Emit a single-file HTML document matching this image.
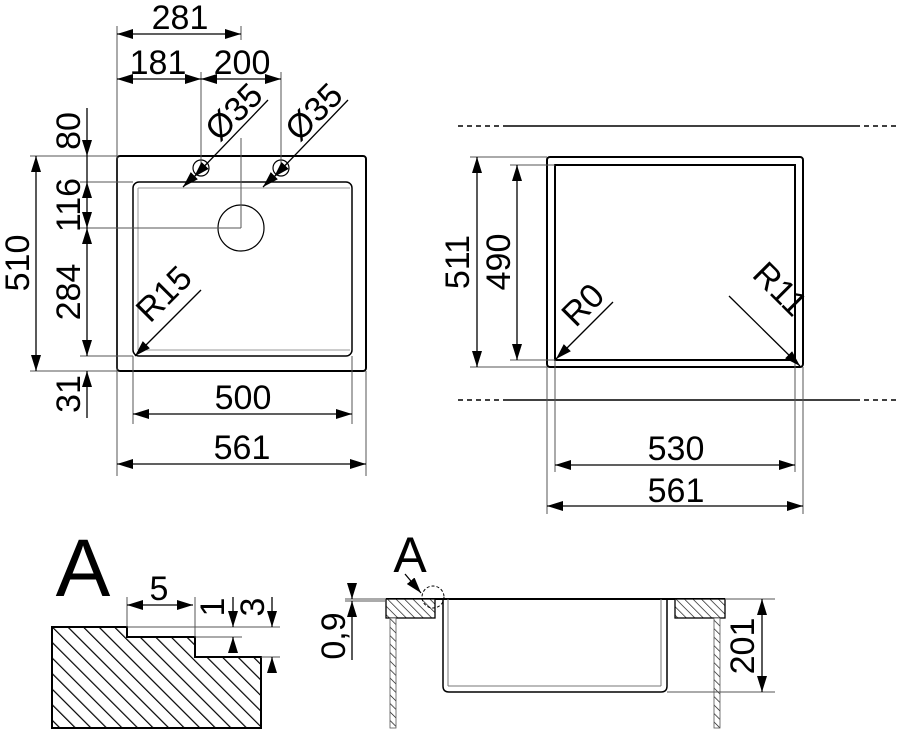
<!DOCTYPE html>
<html><head><meta charset="utf-8"><style>
html,body{margin:0;padding:0;background:#fff;}
svg{display:block;}
text{font-family:"Liberation Sans",sans-serif;fill:#000;}
</style></head><body>
<svg width="903" height="735" viewBox="0 0 903 735" xmlns="http://www.w3.org/2000/svg">
<defs>
<marker id="a" viewBox="0 0 16 10" refX="16" refY="5" markerWidth="16" markerHeight="10" markerUnits="userSpaceOnUse" orient="auto-start-reverse"><path d="M0,0 L16,5 L0,10 z" fill="#000"/></marker>
<pattern id="h" width="11" height="11" patternUnits="userSpaceOnUse" patternTransform="rotate(-45)"><rect width="11" height="11" fill="#fff"/><line x1="0" y1="0" x2="0" y2="11" stroke="#000" stroke-width="2.4"/></pattern>
<pattern id="h2" width="6" height="6" patternUnits="userSpaceOnUse" patternTransform="rotate(-45)"><rect width="6" height="6" fill="#fff"/><line x1="0" y1="0" x2="0" y2="6" stroke="#000" stroke-width="1.3"/></pattern>
</defs>

<!-- LEFT VIEW -->
<g fill="none" stroke="#000">
<rect x="117" y="156" width="249" height="215" rx="3" stroke-width="2"/>
<rect x="133" y="182" width="219" height="174" rx="6" stroke-width="1.5"/>
<line x1="138" y1="188" x2="138" y2="350" stroke="#999" stroke-width="1"/>
<line x1="138" y1="188" x2="350" y2="188" stroke="#999" stroke-width="1"/>
<line x1="138" y1="350" x2="350" y2="350" stroke="#999" stroke-width="1"/>
<circle cx="241" cy="228" r="23" stroke-width="1.2"/>
<circle cx="201" cy="168" r="8" stroke-width="1.2"/>
<circle cx="281" cy="168" r="8" stroke-width="1.2"/>
</g>
<g stroke="#555" stroke-width="1" fill="none">
<line x1="117" y1="26" x2="117" y2="476"/>
<line x1="241" y1="26" x2="241" y2="40"/>
<line x1="241" y1="138" x2="241" y2="228"/>
<line x1="80" y1="228" x2="241" y2="228"/>
<line x1="201" y1="72" x2="201" y2="165"/>
<line x1="281" y1="72" x2="281" y2="165"/>
<line x1="366" y1="371" x2="366" y2="476"/>
<line x1="133" y1="356" x2="133" y2="424"/>
<line x1="352" y1="356" x2="352" y2="424"/>
<line x1="30" y1="156" x2="117" y2="156"/>
<line x1="30" y1="371" x2="117" y2="371"/>
<line x1="80" y1="182" x2="133" y2="182"/>
<line x1="80" y1="356" x2="133" y2="356"/>
</g>
<g stroke="#000" stroke-width="1.3" fill="none">
<line x1="117" y1="34" x2="241" y2="34" marker-start="url(#a)" marker-end="url(#a)"/>
<line x1="117" y1="79" x2="201" y2="79" marker-start="url(#a)" marker-end="url(#a)"/>
<line x1="201" y1="79" x2="281" y2="79" marker-start="url(#a)" marker-end="url(#a)"/>
<line x1="36" y1="156" x2="36" y2="371" marker-start="url(#a)" marker-end="url(#a)"/>
<line x1="87" y1="108" x2="87" y2="156" marker-end="url(#a)"/>
<line x1="87" y1="182" x2="87" y2="228" marker-start="url(#a)" marker-end="url(#a)"/>
<line x1="87" y1="228" x2="87" y2="356" marker-start="url(#a)" marker-end="url(#a)"/>
<line x1="87" y1="418" x2="87" y2="371" marker-end="url(#a)"/>
<line x1="87" y1="156" x2="87" y2="182"/>
<line x1="133" y1="414" x2="352" y2="414" marker-start="url(#a)" marker-end="url(#a)"/>
<line x1="117" y1="464" x2="366" y2="464" marker-start="url(#a)" marker-end="url(#a)"/>
<line x1="268" y1="100" x2="194" y2="177" marker-end="url(#a)"/>
<line x1="183" y1="187" x2="190" y2="180" marker-start="url(#a)"/>
<line x1="348" y1="100" x2="274" y2="177" marker-end="url(#a)"/>
<line x1="263" y1="187" x2="270" y2="180" marker-start="url(#a)"/>
<line x1="201" y1="290" x2="135" y2="356" marker-end="url(#a)"/>
</g>
<g font-size="34">
<text x="180" y="29" text-anchor="middle">281</text>
<text x="158" y="74" text-anchor="middle">181</text>
<text x="242" y="74" text-anchor="middle">200</text>
<text x="243" y="409" text-anchor="middle">500</text>
<text x="242" y="459" text-anchor="middle">561</text>
<text transform="translate(29,263) rotate(-90)" text-anchor="middle">510</text>
<text transform="translate(80,131) rotate(-90)" text-anchor="middle">80</text>
<text transform="translate(80,205) rotate(-90)" text-anchor="middle">116</text>
<text transform="translate(80,292) rotate(-90)" text-anchor="middle">284</text>
<text transform="translate(80,394) rotate(-90)" text-anchor="middle">31</text>
<text transform="translate(242,120) rotate(-45)" text-anchor="middle">Ø35</text>
<text transform="translate(322,120) rotate(-45)" text-anchor="middle">Ø35</text>
<text transform="translate(172,302) rotate(-45)" text-anchor="middle">R15</text>
</g>

<!-- RIGHT VIEW -->
<g fill="none" stroke="#000">
<line x1="503" y1="126" x2="855" y2="126" stroke-width="1.5"/>
<line x1="458" y1="126" x2="503" y2="126" stroke-width="1.5" stroke-dasharray="5,4"/>
<line x1="855" y1="126" x2="900" y2="126" stroke-width="1.5" stroke-dasharray="5,4"/>
<line x1="503" y1="400" x2="855" y2="400" stroke-width="1.5"/>
<line x1="458" y1="400" x2="503" y2="400" stroke-width="1.5" stroke-dasharray="5,4"/>
<line x1="855" y1="400" x2="900" y2="400" stroke-width="1.5" stroke-dasharray="5,4"/>
<rect x="547" y="157" width="256" height="210" rx="3" stroke-width="2"/>
<rect x="555" y="165" width="240" height="195" stroke-width="2"/>
</g>
<g stroke="#555" stroke-width="1">
<line x1="470" y1="157" x2="547" y2="157"/>
<line x1="470" y1="367" x2="547" y2="367"/>
<line x1="510" y1="165" x2="555" y2="165"/>
<line x1="510" y1="360" x2="555" y2="360"/>
<line x1="547" y1="367" x2="547" y2="514"/>
<line x1="803" y1="367" x2="803" y2="514"/>
<line x1="555" y1="360" x2="555" y2="472"/>
<line x1="795" y1="360" x2="795" y2="472"/>
</g>
<g stroke="#000" stroke-width="1.3">
<line x1="477" y1="157" x2="477" y2="367" marker-start="url(#a)" marker-end="url(#a)"/>
<line x1="517" y1="165" x2="517" y2="360" marker-start="url(#a)" marker-end="url(#a)"/>
<line x1="555" y1="465" x2="795" y2="465" marker-start="url(#a)" marker-end="url(#a)"/>
<line x1="547" y1="506" x2="803" y2="506" marker-start="url(#a)" marker-end="url(#a)"/>
<line x1="613" y1="302" x2="556" y2="359" marker-end="url(#a)"/>
<line x1="729" y1="296" x2="800" y2="366" marker-end="url(#a)"/>
</g>
<g font-size="34">
<text transform="translate(469,262) rotate(-90)" text-anchor="middle">511</text>
<text transform="translate(510,262) rotate(-90)" text-anchor="middle">490</text>
<text x="676" y="460" text-anchor="middle">530</text>
<text x="676" y="502" text-anchor="middle">561</text>
<text transform="translate(591,313) rotate(-45)" text-anchor="middle">R0</text>
<text transform="translate(772,297) rotate(45)" text-anchor="middle">R11</text>
</g>

<!-- DETAIL A -->
<text x="83" y="596" font-size="82" text-anchor="middle">A</text>
<path d="M52,627 L127,627 L127,637 L195,637 L195,657 L261,657 L261,728 L52,728 Z" fill="url(#h)" stroke="#000" stroke-width="2"/>
<g stroke="#555" stroke-width="1">
<line x1="127" y1="597" x2="127" y2="627"/>
<line x1="195" y1="597" x2="195" y2="637"/>
<line x1="127" y1="627" x2="280" y2="627"/>
<line x1="195" y1="637" x2="242" y2="637"/>
<line x1="261" y1="657" x2="280" y2="657"/>
</g>
<g stroke="#000" stroke-width="1.3">
<line x1="127" y1="605" x2="193" y2="605" marker-start="url(#a)" marker-end="url(#a)"/>
<line x1="233" y1="597" x2="233" y2="627" marker-end="url(#a)"/>
<line x1="233" y1="652" x2="233" y2="637" marker-end="url(#a)"/>
<line x1="272" y1="597" x2="272" y2="627" marker-end="url(#a)"/>
<line x1="272" y1="672" x2="272" y2="657" marker-end="url(#a)"/>
</g>
<g font-size="34">
<text x="159" y="600" text-anchor="middle">5</text>
<text transform="translate(224,607) rotate(-90)" text-anchor="middle">1</text>
<text transform="translate(264,607) rotate(-90)" text-anchor="middle">3</text>
</g>

<!-- SECTION -->
<text x="410" y="572" font-size="50" text-anchor="middle">A</text>
<line x1="386" y1="599" x2="725" y2="599" stroke="#000" stroke-width="2"/>
<rect x="386" y="599" width="49" height="19" fill="url(#h2)" stroke="#000" stroke-width="1.3"/>
<rect x="675" y="599" width="50" height="19" fill="url(#h2)" stroke="#000" stroke-width="1.3"/>
<rect x="390" y="618" width="6" height="110" fill="url(#h2)" stroke="#555" stroke-width="0.8"/>
<rect x="714" y="618" width="6" height="110" fill="url(#h2)" stroke="#555" stroke-width="0.8"/>
<path d="M443,599 L443,686 Q443,692 449,692 L661,692 Q667,692 667,686 L667,599" fill="none" stroke="#000" stroke-width="1.5"/>
<line x1="448" y1="599" x2="448" y2="686" stroke="#777" stroke-width="1"/>
<line x1="661" y1="599" x2="661" y2="686" stroke="#777" stroke-width="1"/>
<line x1="448" y1="686" x2="661" y2="686" stroke="#777" stroke-width="1"/>
<circle cx="433" cy="597" r="11" fill="none" stroke="#000" stroke-width="1" stroke-dasharray="3,2"/>
<line x1="405" y1="574" x2="421" y2="593" stroke="#000" stroke-width="1.3" marker-end="url(#a)"/>
<g stroke="#555" stroke-width="1">
<line x1="345" y1="599" x2="386" y2="599"/>
<line x1="345" y1="601" x2="386" y2="601"/>
<line x1="667" y1="692" x2="775" y2="692"/>
<line x1="725" y1="599" x2="775" y2="599"/>
</g>
<g stroke="#000" stroke-width="1.3">
<line x1="352" y1="583" x2="352" y2="599" marker-end="url(#a)"/>
<line x1="352" y1="660" x2="352" y2="601" marker-end="url(#a)"/>
<line x1="762" y1="599" x2="762" y2="692" marker-start="url(#a)" marker-end="url(#a)"/>
</g>
<g font-size="34">
<text transform="translate(345,636) rotate(-90)" text-anchor="middle">0,9</text>
<text transform="translate(754,646) rotate(-90)" text-anchor="middle">201</text>
</g>
</svg>
</body></html>
